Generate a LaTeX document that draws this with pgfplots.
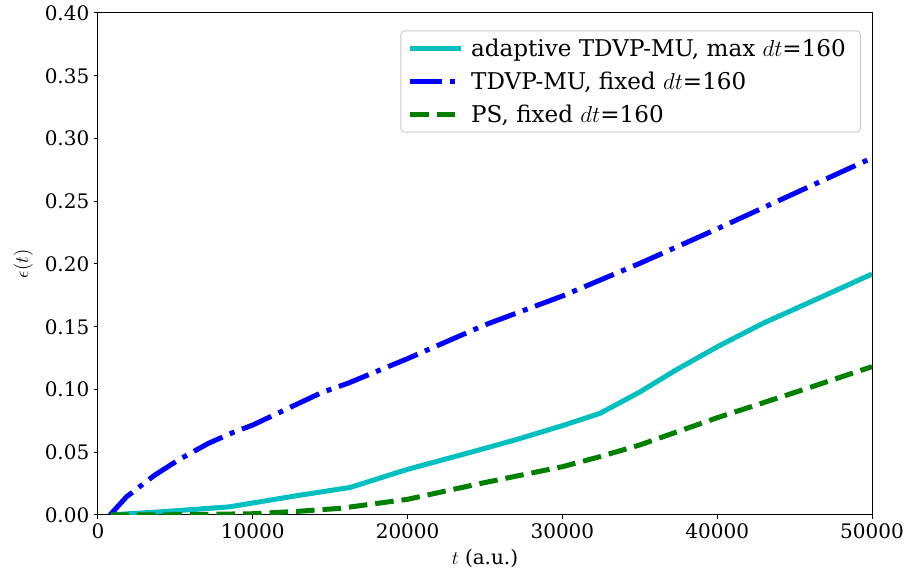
\documentclass[border=0pt]{standalone}
\usepackage{fontspec}
\setmainfont{DejaVu Serif}
\usepackage{pgfplots}
\pgfplotsset{compat=1.18}

\definecolor{mplcyan}{rgb}{0,0.75,0.75}
\definecolor{mplblue}{rgb}{0,0,1}
\definecolor{mplgreen}{rgb}{0,0.5,0}

% error of the propagation schemes versus time
\pgfplotstableread{
t      e
800    0
2000   0.0010
4000   0.0025
8500   0.0065
12700  0.0151
16300  0.0220
20000  0.0364
24230  0.0505
27000  0.0600
30000  0.0712
32430  0.0810
35000  0.0980
37400  0.1160
40000  0.1340
43000  0.1530
45350  0.1660
47500  0.1780
50000  0.1920
}\adaptive

\pgfplotstableread{
t      e
775    0
1850   0.0146
3680   0.0319
5190   0.0438
7130   0.0571
8850   0.0664
10000  0.0717
12730  0.0876
14440  0.0975
16150  0.1050
20000  0.1246
25000  0.1515
30000  0.1745
35000  0.2005
40000  0.2280
45000  0.2563
50000  0.2845
}\fixedtdvp

\pgfplotstableread{
t      e
800    0
5000   0.0002
10000  0.0010
13000  0.0030
15630  0.0053
20000  0.0125
24740  0.0252
30000  0.0385
32430  0.0465
35000  0.0558
40000  0.0775
45350  0.0990
50000  0.1182
}\fixedps

\begin{document}
\begin{tikzpicture}[font=\fontsize{15}{18}\selectfont]
\begin{axis}[
  scale only axis,
  width=580.5pt, height=376.5pt,
  xmin=0, xmax=50000, ymin=0, ymax=0.4,
  xtick={0,10000,20000,30000,40000,50000},
  ytick={0,0.05,0.10,0.15,0.20,0.25,0.30,0.35,0.40},
  scaled x ticks=false, scaled y ticks=false,
  /pgf/number format/assume math mode=true,
  xticklabel style={/pgf/number format/1000 sep={}},
  yticklabel style={/pgf/number format/.cd, fixed, fixed zerofill, precision=2},
  tick align=outside, tick pos=left,
  major tick length=3pt,
  axis line style={line width=0.75pt},
  every tick/.style={black, line width=0.75pt},
  xlabel={$t$ (a.u.)},
  ylabel={$\epsilon(t)$},
  xlabel style={yshift=-1pt},
  ylabel style={yshift=2pt},
  legend cell align=left,
  legend image code/.code={\draw[#1] (0pt,0pt) -- (38pt,0pt);},
  legend style={
    at={(rel axis cs:1,1)}, anchor=north east,
    xshift=-8.25pt, yshift=-13pt,
    draw=black!20, line width=0.75pt, rounded corners=3pt,
    fill=white, fill opacity=0.8, text opacity=1,
    inner xsep=5pt, inner ysep=4pt, row sep=6pt,
    font=\fontsize{17.3}{20.8}\selectfont,
    nodes={inner xsep=6pt},
  },
]
\addplot[mplcyan, line width=3.75pt, line join=round] table[x=t, y=e] {\adaptive};
\addlegendentry{adaptive TDVP-MU, max $dt$=160}
\addplot[mplblue, line width=3.75pt, line join=round,
  dash pattern=on 24pt off 6pt on 3.75pt off 6pt] table[x=t, y=e] {\fixedtdvp};
\addlegendentry{TDVP-MU, fixed $dt$=160}
\addplot[mplgreen, line width=3.75pt, line join=round,
  dash pattern=on 13.9pt off 6pt] table[x=t, y=e] {\fixedps};
\addlegendentry{PS, fixed $dt$=160}
\coordinate (sw) at (rel axis cs:0,0);
\coordinate (ne) at (rel axis cs:1,1);
\end{axis}
\pgfresetboundingbox
\path ([shift={(-73.5pt,-48.75pt)}]sw) rectangle ([shift={(31.5pt,9.75pt)}]ne);
\end{tikzpicture}
\end{document}
